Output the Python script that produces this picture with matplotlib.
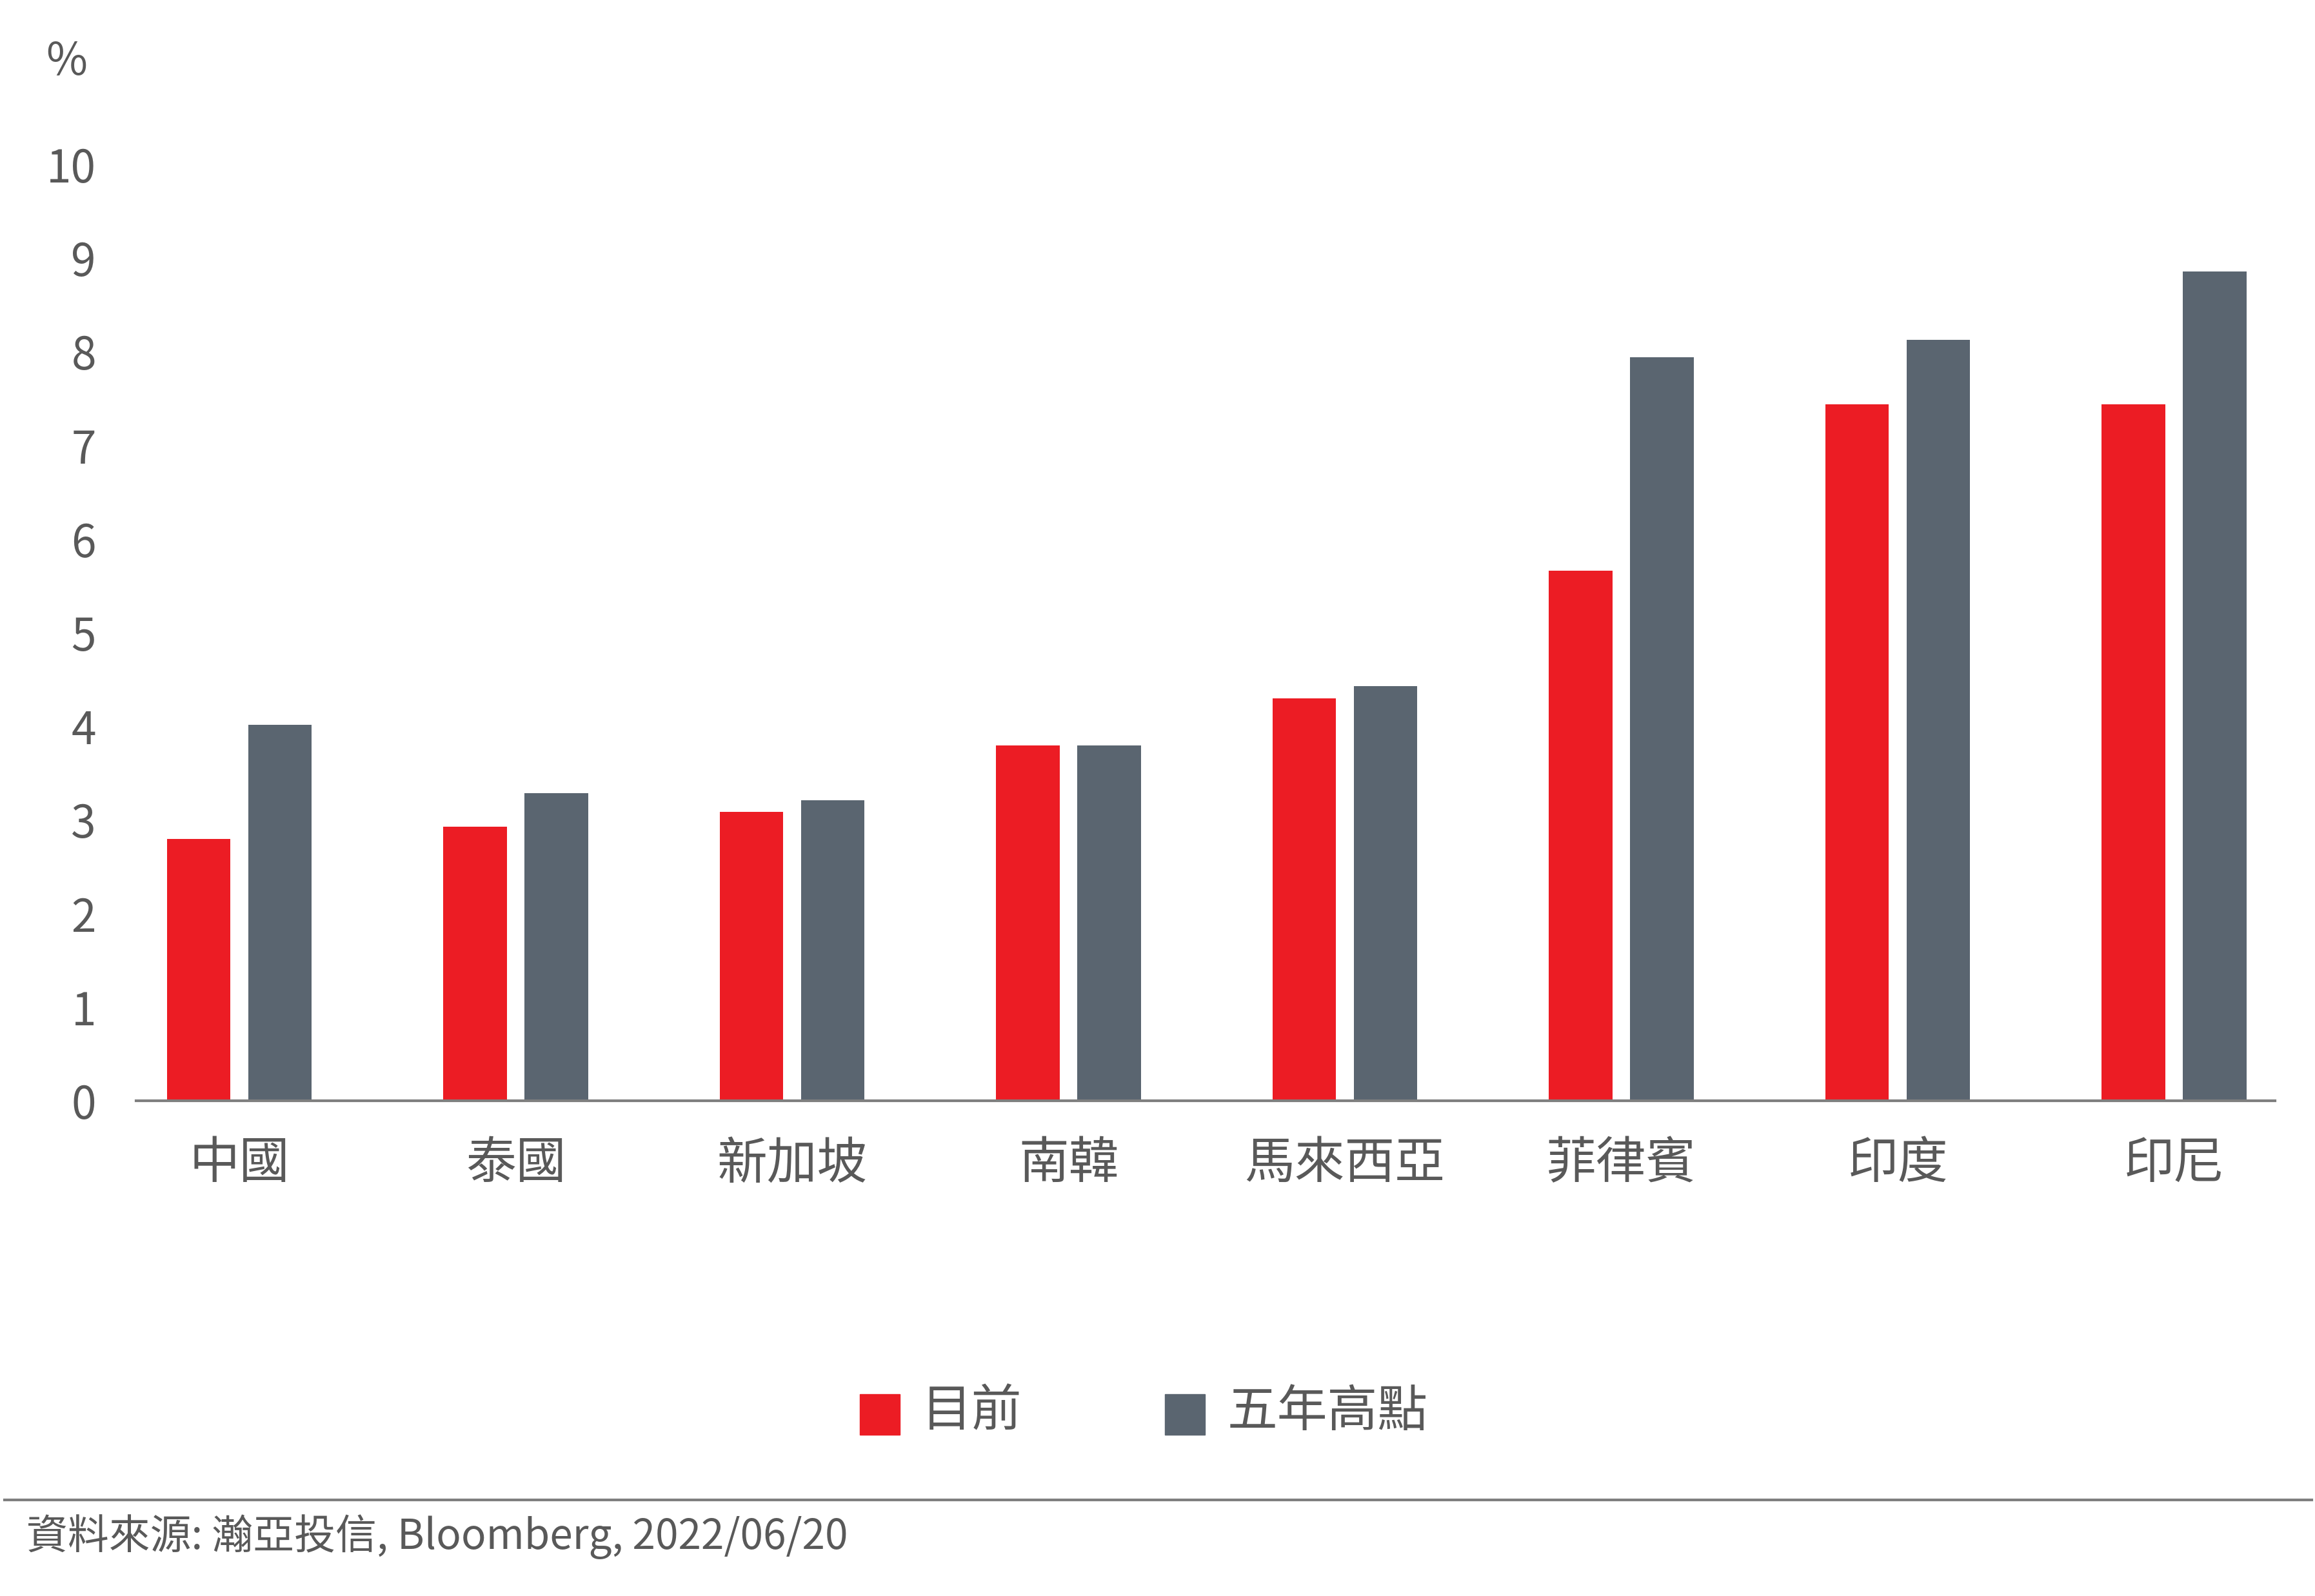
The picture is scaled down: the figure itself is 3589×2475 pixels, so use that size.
import matplotlib
matplotlib.use("Agg")
import matplotlib.pyplot as plt
import numpy as np
from matplotlib.lines import Line2D
from matplotlib.patches import Rectangle

plt.rcParams["font.family"] = ["Noto Sans CJK TC", "DejaVu Sans"]

categories = ["中國", "泰國", "新加坡", "南韓", "馬來西亞", "菲律賓", "印度", "印尼"]
current = [2.80, 2.93, 3.09, 3.80, 4.30, 5.66, 7.44, 7.44]
high5y = [4.02, 3.29, 3.21, 3.80, 4.43, 7.94, 8.13, 8.86]
series_names = ["目前", "五年高點"]
yticks = list(range(0, 11))

RED = "#EC1C24"
GREY = "#5A6570"
TXT = "#595959"

W, H = 3589, 2475
fig = plt.figure(figsize=(W / 100, H / 100), dpi=100)
ax = fig.add_axes([92 / 1562, 1 - 743 / 1077, (1535 - 92) / 1562, (743 - 111) / 1077])
x = np.arange(len(categories))
bw = 0.23
ax.bar(x - 0.147, current, bw, color=RED)
ax.bar(x + 0.147, high5y, bw, color=GREY)
ax.set_xlim(-0.373, 7.365)
ax.set_ylim(0, 10)
ax.set_yticks(yticks)
ax.set_yticklabels([str(v) for v in yticks], fontsize=50, color=TXT)
ax.set_xticks(x)
ax.set_xticklabels(categories, fontsize=56, color=TXT)
ax.tick_params(length=0)
ax.tick_params(axis="x", pad=42)
ax.tick_params(axis="y", pad=45)
for s in ["top", "right", "left"]:
    ax.spines[s].set_visible(False)
ax.spines["bottom"].set_color("#7f7f7f")
ax.spines["bottom"].set_linewidth(3)
fig.text(45 / 1562, 1 - 42 / 1077, "%", fontsize=50, color=TXT, ha="center", va="center")

# legend
for xs, name, col in [(580, series_names[0], RED), (786, series_names[1], GREY)]:
    fig.patches.append(Rectangle((xs / 1562, 1 - 968 / 1077), 27 / 1562, 27 / 1077,
                                 transform=fig.transFigure, color=col))
    fig.text((xs + 42) / 1562, 1 - 953 / 1077, name, fontsize=56, color=TXT, va="center")

fig.lines.append(Line2D([3 / 1562, 1560 / 1562], [1 - 1012 / 1077] * 2,
                        transform=fig.transFigure, color="#7f7f7f", lw=3))
fig.text(18 / 1562, 1 - 1037 / 1077, "資料來源: 瀚亞投信, Bloomberg, 2022/06/20",
         fontsize=46, color=TXT, va="center")

fig.savefig("out.png", dpi=100, facecolor="white")
